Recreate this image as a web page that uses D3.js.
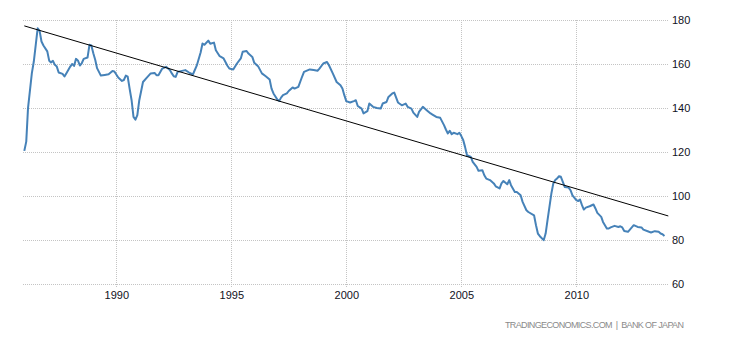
<!DOCTYPE html>
<html>
<head>
<meta charset="utf-8">
<script src="https://cdn.jsdelivr.net/npm/d3@7"></script>
<style>
  html, body { margin: 0; padding: 0; background: #fff; }
  svg { display: block; }
</style>
</head>
<body>
<svg id="chart" width="730" height="340"></svg>
<script>
// Monthly index readings
const months = [
  "1986-01","1986-02","1986-03","1986-05","1986-06","1986-08","1986-09","1986-10","1986-11",
  "1987-01","1987-02","1987-03","1987-04","1987-05","1987-06","1987-07","1987-09","1987-10","1987-11",
  "1988-01","1988-02","1988-03","1988-04","1988-05","1988-06","1988-07","1988-08","1988-10","1988-11","1988-12",
  "1989-01","1989-02","1989-03","1989-05","1989-07","1989-09","1989-11","1989-12",
  "1990-02","1990-04","1990-05","1990-06","1990-07","1990-08","1990-09","1990-10","1990-11","1990-12",
  "1991-01","1991-03","1991-05","1991-07","1991-09","1991-10","1991-11",
  "1992-01","1992-03","1992-05","1992-06","1992-07","1992-08","1992-09",
  "1993-01","1993-03","1993-05","1993-07","1993-09","1993-10","1993-11",
  "1994-01","1994-02","1994-04","1994-05","1994-07","1994-09","1994-11","1994-12",
  "1995-02","1995-04","1995-06","1995-07","1995-09","1995-10","1995-12",
  "1996-01","1996-03","1996-05","1996-07","1996-09","1996-10","1996-11",
  "1997-01","1997-02","1997-03","1997-04","1997-06","1997-07","1997-09","1997-10","1997-12",
  "1998-02","1998-03","1998-06","1998-08","1998-10","1998-11",
  "1999-01","1999-03","1999-04","1999-06","1999-08","1999-10","1999-11","1999-12",
  "2000-01","2000-03","2000-05","2000-06","2000-07","2000-09","2000-10","2000-12",
  "2001-01","2001-03","2001-05","2001-07","2001-08","2001-10","2001-11",
  "2002-01","2002-02","2002-04","2002-06","2002-08","2002-09","2002-11","2002-12",
  "2003-02","2003-03","2003-05","2003-07","2003-09","2003-10","2003-12",
  "2004-02","2004-04","2004-05","2004-06","2004-07","2004-08","2004-09","2004-11","2004-12",
  "2005-01","2005-02","2005-03","2005-04","2005-06","2005-07","2005-09","2005-10","2005-12",
  "2006-01","2006-02","2006-04","2006-06","2006-07","2006-09","2006-10","2006-11",
  "2007-01","2007-02","2007-03","2007-05","2007-06","2007-08","2007-09","2007-11","2007-12",
  "2008-03","2008-04","2008-05","2008-06","2008-08","2008-09","2008-10","2008-12",
  "2009-01","2009-02","2009-03","2009-04","2009-05","2009-06","2009-07","2009-09","2009-10","2009-11",
  "2010-01","2010-02","2010-03","2010-04","2010-05","2010-06","2010-08","2010-10","2010-11","2010-12",
  "2011-02","2011-03","2011-05","2011-06","2011-07","2011-09","2011-11","2011-12",
  "2012-01","2012-02","2012-04","2012-05","2012-07","2012-09","2012-11","2012-12",
  "2013-03","2013-04","2013-06","2013-08","2013-09","2013-10","2013-11"
];
const values = [
  120.3,124.5,139.7,155.6,160.9,176.0,174.8,170.0,168.2,
  165.5,161.2,160.5,161.2,159.4,158.6,155.9,155.3,154.1,155.6,
  158.6,159.8,158.9,162.1,161.4,159.1,160.1,162.1,162.7,168.5,168.2,
  164.7,161.6,157.9,154.5,154.8,155.1,156.6,156.4,
  153.6,152.1,152.5,154.5,154.0,148.5,143.3,135.7,134.5,136.5,
  143.3,151.6,153.6,155.5,155.7,154.7,154.7,
  157.7,158.5,157.0,155.5,154.2,153.9,156.2,
  157.0,155.9,155.0,159.0,165.0,169.1,168.5,
  170.4,169.0,169.5,166.0,163.3,162.3,159.0,157.7,
  157.3,160.0,162.3,165.3,165.7,164.5,163.0,
  160.3,158.8,155.5,154.2,152.7,148.6,146.4,
  143.6,143.0,144.5,145.6,146.4,147.5,149.1,148.6,149.4,
  154.2,156.2,157.3,157.0,156.7,157.7,
  160.0,160.7,159.2,155.5,151.6,150.1,148.6,145.6,
  142.9,142.3,142.9,143.3,140.7,139.5,137.3,138.3,
  141.8,140.3,139.8,139.5,141.8,142.5,144.8,
  146.4,146.8,142.3,141.0,141.8,140.3,139.5,137.7,
  135.7,138.0,140.3,138.8,137.3,136.8,135.7,
  135.3,132.0,130.0,128.2,129.4,127.9,128.5,127.9,128.5,
  127.0,125.1,122.1,118.3,117.5,115.3,113.0,111.2,111.5,
  109.2,107.7,107.0,105.5,104.2,103.2,105.5,106.6,
  105.1,107.0,104.7,101.6,101.6,100.1,97.1,93.3,92.5,
  91.0,86.5,82.7,81.5,79.7,82.7,88.8,100.9,
  105.5,107.0,107.7,108.8,108.5,106.2,103.9,103.6,102.4,100.1,
  97.9,97.5,98.2,95.6,93.6,94.5,95.1,95.9,94.1,92.1,
  90.3,88.0,85.0,85.0,85.5,86.2,85.7,86.0,
  85.5,83.9,83.5,84.5,86.5,85.7,85.5,84.5,
  83.5,83.2,83.8,83.5,82.7,82.4,81.6
];

// Straight trend line drawn over the series
const trendMonths = ["1986-01", "2014-01"];
const trendValues = [177.1, 90.7];

const yTicks = [60, 80, 100, 120, 140, 160, 180];
const xTickYears = [1990, 1995, 2000, 2005, 2010];
const sourceText = "TRADINGECONOMICS.COM  |  BANK OF JAPAN";

const parseMonth = d3.timeParse("%Y-%m");
const series = months.map((m, i) => ({ date: parseMonth(m), value: values[i] }));
const trend = trendMonths.map((m, i) => ({ date: parseMonth(m), value: trendValues[i] }));

const svg = d3.select("#chart");
const plotLeft = 22, plotRight = 668, plotTop = 19.5, plotBottom = 283.5;

const x = d3.scaleTime()
  .domain([parseMonth("1986-01"), parseMonth("2014-01")])
  .range([24.3, 668.3]);
const y = d3.scaleLinear()
  .domain([60, 180])
  .range([plotBottom, plotTop]);

const gridColor = "#c4c4c4";

// Horizontal grid with labels on the right
const yAxis = svg.append("g")
  .attr("transform", `translate(${plotRight},0)`)
  .call(d3.axisRight(y).tickValues(yTicks).tickSize(-(plotRight - plotLeft)).tickPadding(4));
yAxis.select(".domain").remove();
yAxis.selectAll(".tick line")
  .attr("stroke", gridColor)
  .attr("stroke-dasharray", "1,1")
  .attr("shape-rendering", "crispEdges");
yAxis.selectAll(".tick text")
  .attr("fill", "#111122")
  .style("font-family", "Arial, 'Liberation Sans', sans-serif")
  .style("font-size", "11px");

// Vertical grid at year marks with labels below
const xAxis = svg.append("g")
  .attr("transform", `translate(0,${plotBottom + 3})`)
  .call(d3.axisBottom(x)
    .tickValues(xTickYears.map(yr => new Date(yr, 0, 1)))
    .tickFormat(d3.timeFormat("%Y"))
    .tickSize(-(plotBottom + 3 - plotTop))
    .tickPadding(5));
xAxis.select(".domain").remove();
xAxis.selectAll(".tick line")
  .attr("stroke", gridColor)
  .attr("stroke-dasharray", "1,1")
  .attr("shape-rendering", "crispEdges");
xAxis.selectAll(".tick text")
  .attr("fill", "#111122")
  .style("font-family", "Arial, 'Liberation Sans', sans-serif")
  .style("font-size", "11px");

// Index line
const line = d3.line()
  .x(d => x(d.date))
  .y(d => y(d.value))
  .curve(d3.curveLinear);

svg.append("path")
  .datum(series)
  .attr("fill", "none")
  .attr("stroke", "#4682b8")
  .attr("stroke-width", 2)
  .attr("stroke-linejoin", "round")
  .attr("d", line);

// Trend line
svg.append("path")
  .datum(trend)
  .attr("fill", "none")
  .attr("stroke", "#000")
  .attr("stroke-width", 1)
  .attr("d", line);

// Source note
svg.append("text")
  .attr("x", 684)
  .attr("y", 328)
  .attr("text-anchor", "end")
  .attr("fill", "#8a8a8a")
  .attr("textLength", 179)
  .attr("lengthAdjust", "spacing")
  .style("font-family", "Arial, 'Liberation Sans', sans-serif")
  .style("font-size", "9px")
  .style("white-space", "pre")
  .text(sourceText);
</script>
</body>
</html>
